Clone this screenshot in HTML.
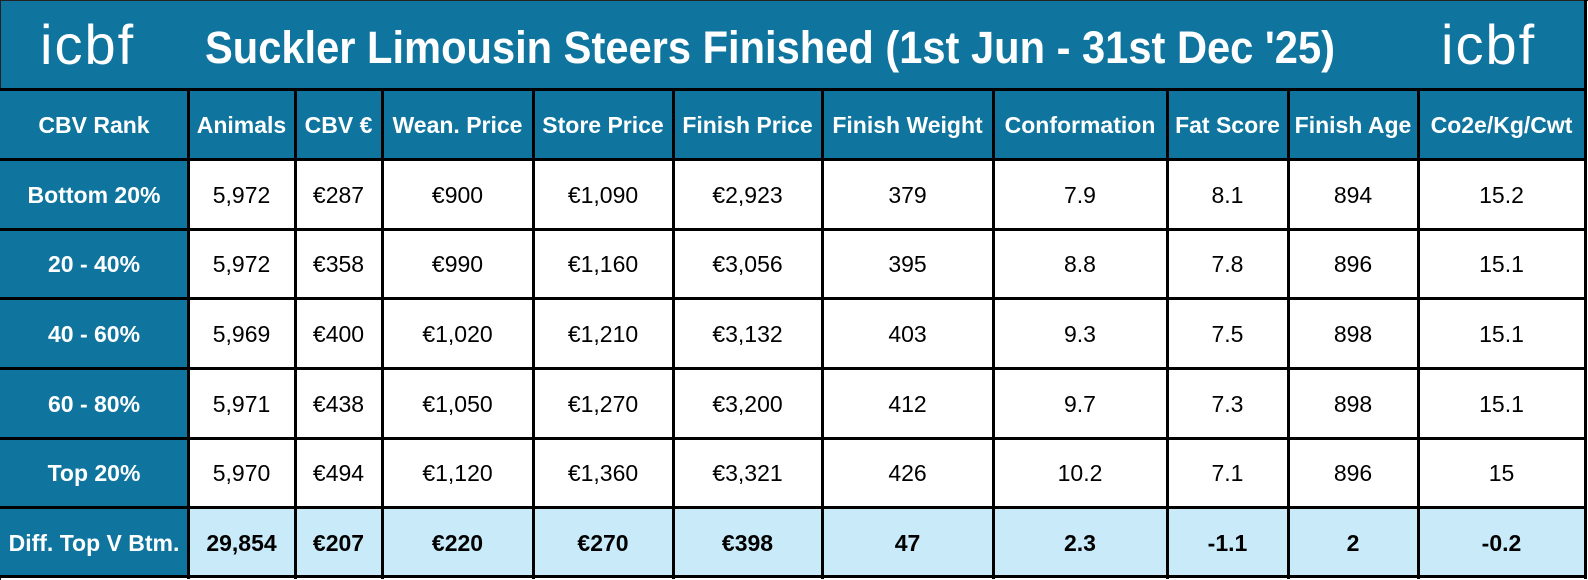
<!DOCTYPE html>
<html><head><meta charset="utf-8"><style>
html,body{margin:0;padding:0;background:#fff;}
#w{position:relative;width:1588px;height:580px;overflow:hidden;font-family:"Liberation Sans",sans-serif;}
.c{position:absolute;display:flex;align-items:center;justify-content:center;font-size:23px;color:#000;padding-top:2px;box-sizing:border-box;}
.h{background:#0f759e;color:#fff;font-weight:bold;}
.b{background:#c9ebf9;font-weight:bold;}
.vl{position:absolute;width:3px;background:#000;top:89px;height:490px;}
.hl{position:absolute;height:3px;background:#000;left:0;width:1587px;}
.c0{left:0;width:188px}.c1{left:188px;width:107px}.c2{left:295px;width:87px}.c3{left:382px;width:151px}
.c4{left:533px;width:140px}.c5{left:673px;width:149px}.c6{left:822px;width:171px}.c7{left:993px;width:174px}
.c8{left:1167px;width:121px}.c9{left:1288px;width:130px}.c10{left:1418px;width:167px}
.r1{top:90px;height:69px}.r2{top:159px;height:70px}.r3{top:229px;height:69px}.r4{top:298px;height:70px}
.r5{top:368px;height:70px}.r6{top:438px;height:69px}.r7{top:507px;height:70px}
.logo{position:absolute;color:#fff;font-size:56px;letter-spacing:2px;top:17px;line-height:1;font-family:"Liberation Sans",sans-serif;}
</style></head><body><div id="w">
<div style="position:absolute;left:0;top:0;width:1586px;height:90px;background:#0f759e;"></div>
<div style="position:absolute;left:0;top:0;width:1588px;height:1px;background:#222;"></div>
<div style="position:absolute;left:0;top:0;width:1px;height:580px;background:#222;"></div>
<div class="logo" style="left:40px;">icbf</div>
<div class="logo" style="left:1441px;">icbf</div>
<svg style="position:absolute;left:0;top:0" width="1588" height="90"><text x="205" y="63" textLength="1130" lengthAdjust="spacingAndGlyphs" font-family="Liberation Sans, sans-serif" font-weight="bold" font-size="45" fill="#fff">Suckler Limousin Steers Finished (1st Jun - 31st Dec '25)</text></svg>

<div class="c h c0 r1">CBV Rank</div><div class="c h c1 r1">Animals</div><div class="c h c2 r1">CBV €</div><div class="c h c3 r1">Wean. Price</div><div class="c h c4 r1">Store Price</div><div class="c h c5 r1">Finish Price</div><div class="c h c6 r1">Finish Weight</div><div class="c h c7 r1">Conformation</div><div class="c h c8 r1">Fat Score</div><div class="c h c9 r1">Finish Age</div><div class="c h c10 r1">Co2e/Kg/Cwt</div>

<div class="c h c0 r2">Bottom 20%</div><div class="c c1 r2">5,972</div><div class="c c2 r2">€287</div><div class="c c3 r2">€900</div><div class="c c4 r2">€1,090</div><div class="c c5 r2">€2,923</div><div class="c c6 r2">379</div><div class="c c7 r2">7.9</div><div class="c c8 r2">8.1</div><div class="c c9 r2">894</div><div class="c c10 r2">15.2</div>

<div class="c h c0 r3">20 - 40%</div><div class="c c1 r3">5,972</div><div class="c c2 r3">€358</div><div class="c c3 r3">€990</div><div class="c c4 r3">€1,160</div><div class="c c5 r3">€3,056</div><div class="c c6 r3">395</div><div class="c c7 r3">8.8</div><div class="c c8 r3">7.8</div><div class="c c9 r3">896</div><div class="c c10 r3">15.1</div>

<div class="c h c0 r4">40 - 60%</div><div class="c c1 r4">5,969</div><div class="c c2 r4">€400</div><div class="c c3 r4">€1,020</div><div class="c c4 r4">€1,210</div><div class="c c5 r4">€3,132</div><div class="c c6 r4">403</div><div class="c c7 r4">9.3</div><div class="c c8 r4">7.5</div><div class="c c9 r4">898</div><div class="c c10 r4">15.1</div>

<div class="c h c0 r5">60 - 80%</div><div class="c c1 r5">5,971</div><div class="c c2 r5">€438</div><div class="c c3 r5">€1,050</div><div class="c c4 r5">€1,270</div><div class="c c5 r5">€3,200</div><div class="c c6 r5">412</div><div class="c c7 r5">9.7</div><div class="c c8 r5">7.3</div><div class="c c9 r5">898</div><div class="c c10 r5">15.1</div>

<div class="c h c0 r6">Top 20%</div><div class="c c1 r6">5,970</div><div class="c c2 r6">€494</div><div class="c c3 r6">€1,120</div><div class="c c4 r6">€1,360</div><div class="c c5 r6">€3,321</div><div class="c c6 r6">426</div><div class="c c7 r6">10.2</div><div class="c c8 r6">7.1</div><div class="c c9 r6">896</div><div class="c c10 r6">15</div>

<div class="c h c0 r7">Diff. Top V Btm.</div><div class="c b c1 r7">29,854</div><div class="c b c2 r7">€207</div><div class="c b c3 r7">€220</div><div class="c b c4 r7">€270</div><div class="c b c5 r7">€398</div><div class="c b c6 r7">47</div><div class="c b c7 r7">2.3</div><div class="c b c8 r7">-1.1</div><div class="c b c9 r7">2</div><div class="c b c10 r7">-0.2</div>

<div class="hl" style="top:88px"></div><div class="hl" style="top:158px"></div><div class="hl" style="top:228px"></div><div class="hl" style="top:297px"></div><div class="hl" style="top:367px"></div><div class="hl" style="top:437px"></div><div class="hl" style="top:506px"></div><div class="hl" style="top:575px"></div>
<div class="vl" style="left:187px"></div><div class="vl" style="left:294px"></div><div class="vl" style="left:381px"></div><div class="vl" style="left:532px"></div><div class="vl" style="left:672px"></div><div class="vl" style="left:821px"></div><div class="vl" style="left:992px"></div><div class="vl" style="left:1166px"></div><div class="vl" style="left:1287px"></div><div class="vl" style="left:1417px"></div><div class="vl" style="left:1584px;top:0;height:579px"></div>
</div></body></html>
